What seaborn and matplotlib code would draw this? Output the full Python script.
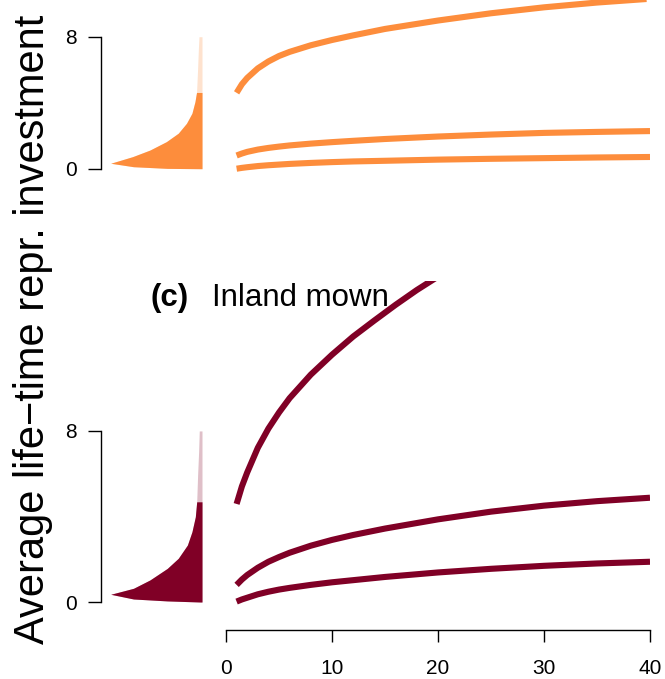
import matplotlib
matplotlib.use("Agg")
import matplotlib.pyplot as plt
import numpy as np
import pandas as pd
import seaborn as sns

# ---------------- data ----------------
# shared x grid (years) for the fitted curves
X_GRID = [1, 1.5, 2, 3, 4, 5, 6, 8, 10, 12, 15, 20, 25, 30, 35, 40]
X_STEEP = [1, 1.5, 2, 3, 4, 5, 6, 8, 10, 12, 14, 16, 18, 20]

# upper panel (orange) curves
UPPER_HIGH = [4.6, 5.12, 5.5, 6.08, 6.5, 6.83, 7.08, 7.48, 7.8, 8.08, 8.47, 8.98, 9.42, 9.78, 10.07, 10.3]
UPPER_MID = [0.8, 0.92, 1.02, 1.16, 1.26, 1.34, 1.41, 1.52, 1.61, 1.69, 1.8, 1.95, 2.07, 2.17, 2.23, 2.28]
UPPER_LOW = [0.0, 0.05, 0.09, 0.16, 0.21, 0.25, 0.29, 0.35, 0.4, 0.44, 0.48, 0.55, 0.6, 0.64, 0.68, 0.71]

# lower panel (Inland mown) curves
LOWER_HIGH = [4.58, 5.4, 6.05, 7.2, 8.1, 8.85, 9.52, 10.62, 11.55, 12.4, 13.15, 13.88, 14.57, 15.2]
LOWER_MID = [0.8, 1.05, 1.26, 1.6, 1.88, 2.1, 2.3, 2.63, 2.9, 3.13, 3.43, 3.86, 4.22, 4.5, 4.71, 4.87]
LOWER_LOW = [0.02, 0.12, 0.2, 0.36, 0.48, 0.58, 0.66, 0.8, 0.92, 1.02, 1.17, 1.38, 1.55, 1.69, 1.8, 1.88]

# half-violin density profiles (level, relative width)
UPPER_DENS_LEVEL = [0.0, 0.02, 0.12, 0.33, 0.73, 1.13, 1.64, 2.15, 2.75, 3.36, 4.06, 4.62, 5.8, 7.2, 8.0]
UPPER_DENS_WIDTH = [0.02, 0.38, 0.75, 1.0, 0.76, 0.57, 0.39, 0.26, 0.17, 0.11, 0.077, 0.06, 0.05, 0.04, 0.033]
UPPER_SOLID_TOP = 4.62

LOWER_DENS_LEVEL = [0.0, 0.05, 0.14, 0.36, 0.64, 1.03, 1.57, 2.04, 2.66, 3.28, 3.98, 4.68, 5.93, 7.02, 7.99]
LOWER_DENS_WIDTH = [0.02, 0.38, 0.75, 1.0, 0.75, 0.57, 0.38, 0.26, 0.16, 0.11, 0.073, 0.058, 0.048, 0.037, 0.03]
LOWER_SOLID_TOP = 4.68

X_TICKS = [0, 10, 20, 30, 40]
Y_TICKS = [0, 8]

ORANGE = "#FD8D3C"
DARKRED = "#800026"

# ---------------- figure ----------------
sns.set_style("white")
plt.rcParams["font.family"] = ["Liberation Sans", "DejaVu Sans"]
plt.rcParams.update({
    "text.color": "black",
    "axes.labelcolor": "black",
    "xtick.color": "black",
    "ytick.color": "black",
    "xtick.labelcolor": "black",
    "ytick.labelcolor": "black",
})

W, H = 665, 679
fig = plt.figure(figsize=(W / 100, H / 100), dpi=100)


def rect(left, top, right, bottom):
    return [left / W, 1 - bottom / H, (right - left) / W, (bottom - top) / H]


def draw_curves(ax, xs_list, ys_list, color):
    for xs, ys in zip(xs_list, ys_list):
        df = pd.DataFrame({"x": xs, "y": ys})
        sns.lineplot(data=df, x="x", y="y", ax=ax, color=color, linewidth=4.4,
                     errorbar=None, solid_capstyle="butt",
                     solid_joinstyle="round", sort=True)
    ax.set_xlim(0, 40)
    ax.set_xlabel("")
    ax.set_ylabel("")
    ax.set_yticks([])


def draw_violin(ax, levels, widths, solid_top, color):
    lv = np.asarray(levels)
    wd = np.asarray(widths)
    ax.fill_betweenx(lv, -wd, 0, color=color, alpha=0.25, linewidth=0)
    m = lv <= solid_top + 1e-9
    ax.fill_betweenx(lv[m], -wd[m], 0, color=color, linewidth=0)
    ax.set_xlim(-(202 - 101) / 91.3, (215 - 202) / 91.3)
    ax.set_xticks([])
    for s in ["top", "right", "bottom"]:
        ax.spines[s].set_visible(False)
    ax.spines["left"].set_bounds(0, 8)
    ax.spines["left"].set_linewidth(1.0)
    ax.spines["left"].set_color("black")
    ax.set_yticks(Y_TICKS)
    ax.set_yticklabels([str(t) for t in Y_TICKS])
    ax.tick_params(axis="y", left=True, length=9.4, width=1.0, pad=8,
                   labelsize=15, color="black", labelcolor="black")
    ax.set_facecolor("none")


# upper panel
ylim_top = ((168.7 - 220) / 16.5, 168.7 / 16.5)
ax_tr = fig.add_axes(rect(226, 0, 650, 220))
draw_curves(ax_tr, [X_GRID, X_GRID, X_GRID], [UPPER_HIGH, UPPER_MID, UPPER_LOW], ORANGE)
ax_tr.set_ylim(*ylim_top)
ax_tr.set_xticks([])
for s in ax_tr.spines.values():
    s.set_visible(False)
ax_tr.set_facecolor("none")

ax_tl = fig.add_axes(rect(101, 0, 215, 220))
draw_violin(ax_tl, UPPER_DENS_LEVEL, UPPER_DENS_WIDTH, UPPER_SOLID_TOP, ORANGE)
ax_tl.set_ylim(*ylim_top)

# lower panel
ylim_bot = ((602 - 630) / 21.41, (602 - 281) / 21.41)
ax_br = fig.add_axes(rect(226, 281, 650, 630))
draw_curves(ax_br, [X_STEEP, X_GRID, X_GRID], [LOWER_HIGH, LOWER_MID, LOWER_LOW], DARKRED)
ax_br.set_ylim(*ylim_bot)
for s in ["top", "right", "left"]:
    ax_br.spines[s].set_visible(False)
ax_br.spines["bottom"].set_bounds(0, 40)
ax_br.spines["bottom"].set_linewidth(1.0)
ax_br.spines["bottom"].set_color("black")
ax_br.set_xticks(X_TICKS)
ax_br.set_xticklabels([str(t) for t in X_TICKS])
ax_br.tick_params(axis="x", bottom=True, length=8.6, width=1.0, pad=12,
                  labelsize=15, color="black", labelcolor="black")
ax_br.set_facecolor("none")

ax_bl = fig.add_axes(rect(101, 281, 215, 630))
draw_violin(ax_bl, LOWER_DENS_LEVEL, LOWER_DENS_WIDTH, LOWER_SOLID_TOP, DARKRED)
ax_bl.set_ylim(*ylim_bot)

# panel title and shared y label
fig.text(150 / W, 1 - 306 / H, "(c)", fontsize=22.5, fontweight="bold",
         ha="left", va="baseline", color="black")
fig.text(212 / W, 1 - 306 / H, "Inland mown", fontsize=22.5,
         ha="left", va="baseline", color="black")
fig.text(33 / W, 1 - 329 / H, "Average life\u2212time repr. investment",
         fontsize=30, rotation=90, ha="center", va="center", color="black")

fig.savefig("out.png", dpi=100)
